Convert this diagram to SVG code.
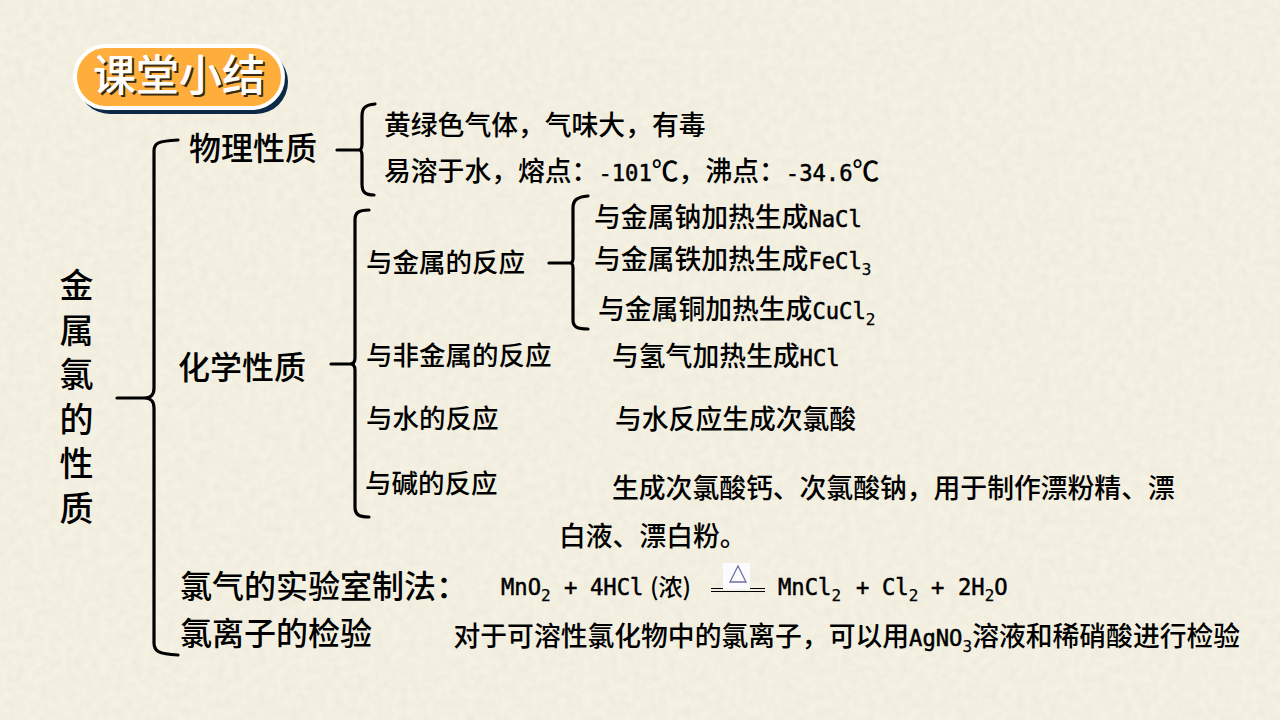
<svg xmlns="http://www.w3.org/2000/svg" width="1280" height="720" viewBox="0 0 1280 720">
<style>
text{font-family:"Noto Sans CJK SC","Noto Sans",sans-serif;font-weight:500;fill:#000}
.s{font-size:26.8px}
.t{font-size:26.5px}
.b{font-size:32px}
.v{font-size:34px;writing-mode:vertical-rl;letter-spacing:10.6px}
.m{font-family:"DejaVu Sans Mono","Noto Sans CJK SC",monospace;font-size:22.2px;font-weight:400;stroke:#000;stroke-width:.5px}
.u{font-family:"DejaVu Sans Mono",monospace;font-size:16px;font-weight:400;stroke:#000;stroke-width:.25px}
.c path{fill:none;stroke:#000;stroke-width:3.2;stroke-linecap:round;stroke-linejoin:round}
</style>
<defs>
<filter id="paper" x="0" y="0" width="100%" height="100%"><feTurbulence type="fractalNoise" baseFrequency="0.12" numOctaves="3" seed="4"/><feColorMatrix values="0 0 0 0 0.55  0 0 0 0 0.52  0 0 0 0 0.38  0.22 0 0 0 -0.06"/></filter>
</defs>
<rect id="background" width="1280" height="720" fill="#f5f2e4"/>
<rect width="1280" height="720" filter="url(#paper)"/>
<g id="title">
<rect x="78" y="50" width="210" height="64" rx="32" fill="#0c2a47"/>
<rect x="75" y="46" width="208" height="62" rx="31" fill="#ffae3b" stroke="#fff" stroke-width="4"/>
<text x="95" y="93" font-size="43" style="fill:#3a2a10">课堂小结</text>
<text x="93" y="91" font-size="43" style="fill:#fff">课堂小结</text>
</g>
<g id="connectors" class="c">
<path d="M117 398H144C151 398 154 395 154 388V151C154 143 158 141 178 140M144 398C151 398 154 401 154 408V643C154 651 158 654 178 655"/>
<path d="M337 150H359C361 150 362 148 362 144V116C362 108 365 105 375 104M359 150C361 150 362 152 362 156V184C362 192 365 195 374 195"/>
<path d="M331 364H350C353 364 355 362 355 358V220C355 213 358 210 369 210M350 364C353 364 355 366 355 370V507C355 514 358 517 369 517"/>
<path d="M549 263H570C572 263 573 261 573 258V208C573 200 577 197 588 196M570 263C572 263 573 265 573 268V320C573 327 577 329 588 329"/>
</g>
<g id="root"><text class="v" x="76.5" y="268">金属氯的性质</text></g>
<g id="physical"><text class="b" x="189" y="160">物理性质</text>
<text class="s" x="384" y="135">黄绿色气体，气味大，有毒</text>
<text class="s" x="384" y="181">易溶于水，熔点：<tspan class="m">-101</tspan>℃，沸点：<tspan class="m">-34.6</tspan>℃</text></g>
<g id="chemical"><text class="b" x="178" y="379">化学性质</text>
<text class="t" x="366" y="272">与金属的反应</text>
<text class="s" x="594" y="227">与金属钠加热生成<tspan class="m">NaCl</tspan></text>
<text class="s" x="594" y="269">与金属铁加热生成<tspan class="m">FeCl</tspan><tspan class="u" dy="6">3</tspan></text>
<text class="s" x="598" y="319">与金属铜加热生成<tspan class="m">CuCl</tspan><tspan class="u" dy="6">2</tspan></text>
<text class="t" x="366" y="365">与非金属的反应</text>
<text class="s" x="612" y="366">与氢气加热生成<tspan class="m">HCl</tspan></text>
<text class="t" x="366" y="428">与水的反应</text>
<text class="s" x="615" y="429">与水反应生成次氯酸</text>
<text class="t" x="365" y="493">与碱的反应</text>
<text class="s" x="612" y="498">生成次氯酸钙、次氯酸钠，用于制作漂粉精、漂</text>
<text class="s" x="559" y="546">白液、漂白粉。</text></g>
<g id="preparation"><text class="b" x="180" y="598">氯气的实验室制法：</text>
<text class="m" x="501" y="595">MnO<tspan class="u" dy="6">2</tspan></text>
<text class="m" x="564" y="595">+</text>
<text class="m" x="590" y="595">4HCl</text>
<text class="s" x="650" y="596" style="font-size:24px">(浓)</text>
<path d="M711 588.5H765M711 591.5H765" stroke="#000" stroke-width="1.2" fill="none"/>
<rect x="723" y="563" width="27" height="26.5" fill="#fbfbfd"/>
<path d="M738 566L730 582H746Z" fill="none" stroke="#6f6fa0" stroke-width="1.3"/>
<text class="m" x="778" y="595">MnCl<tspan class="u" dy="6">2</tspan></text>
<text class="m" x="856" y="595">+</text>
<text class="m" x="882" y="595">Cl<tspan class="u" dy="6">2</tspan></text>
<text class="m" x="931" y="595">+</text>
<text class="m" x="958" y="595">2H<tspan class="u" dy="6">2</tspan><tspan dy="-6">O</tspan></text></g>
<g id="test"><text class="b" x="180" y="645">氯离子的检验</text>
<text class="s" x="453.5" y="646">对于可溶性氯化物中的氯离子，可以用<tspan class="m">AgNO</tspan><tspan class="u" dy="6">3</tspan><tspan dy="-6">溶液和稀硝酸进行检验</tspan></text></g>
</svg>
